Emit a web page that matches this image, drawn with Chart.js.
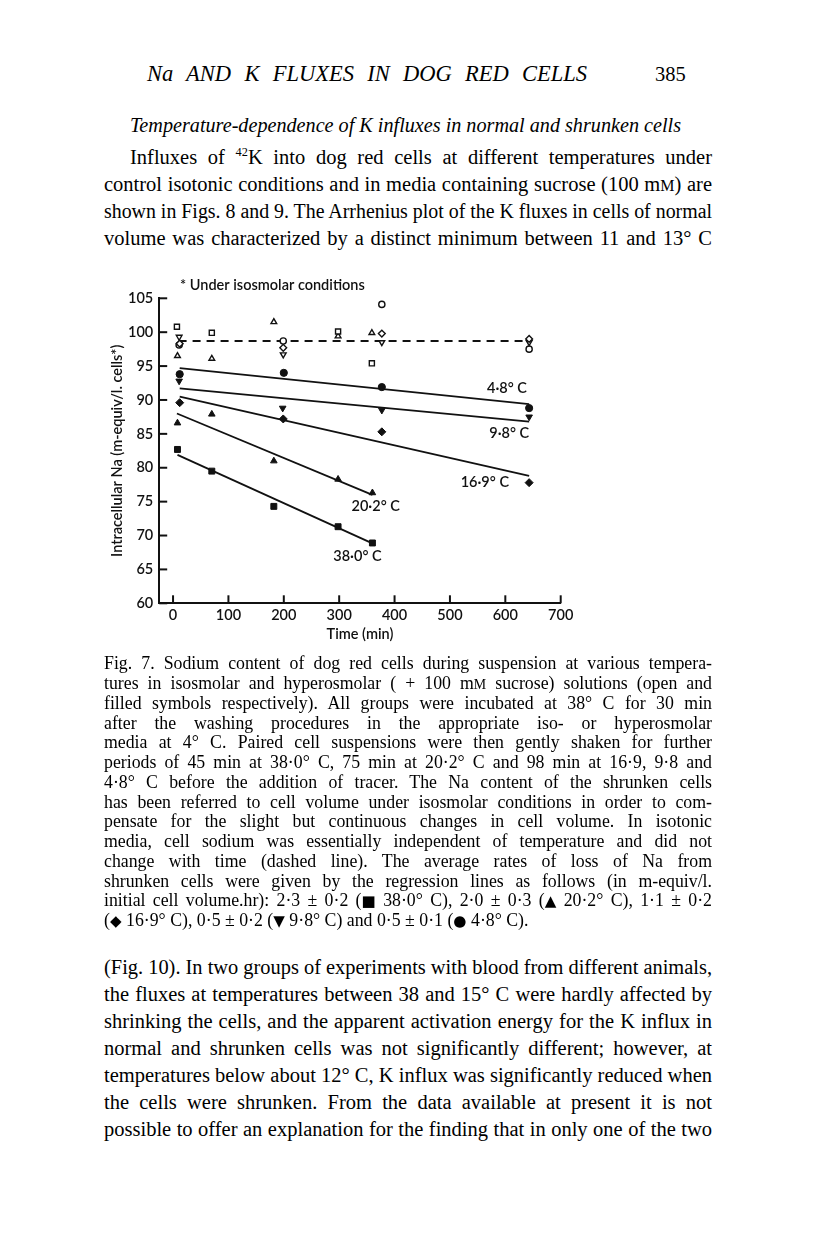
<!DOCTYPE html>
<html>
<head>
<meta charset="utf-8">
<script src="https://cdn.jsdelivr.net/npm/chart.js@4.4.0/dist/chart.umd.min.js"></script>
<style>
  html, body { margin: 0; padding: 0; background: #fff; }
  body { width: 816px; height: 1233px; position: relative; overflow: hidden; font-family: "Liberation Serif", "DejaVu Serif", serif; color: #000; }
  .ln { position: absolute; white-space: nowrap; line-height: 1; transform-origin: 0 0; }
  .sc { font-size: 0.78em; }
  sup { font-size: 0.6em; vertical-align: 0; position: relative; top: -0.6em; }
  #chartWrap { position: absolute; left: 60px; top: 260px; width: 540px; height: 400px; }
  .sym { font-family: "DejaVu Sans", sans-serif; font-size: 0.85em; }
</style>
</head>
<body>
<div id="chartWrap"><canvas id="c" width="540" height="400"></canvas></div>
<script>
// ---------------- data ----------------
const xTicks = [0, 100, 200, 300, 400, 500, 600, 700];
const yTicks = [60, 65, 70, 75, 80, 85, 90, 95, 100, 105];

// shrunken cells (filled symbols)
const t38  = [8, 70, 182, 298, 360];   const na38  = [82.7, 79.5, 74.3, 71.3, 68.9];
const t20  = [8, 70, 182, 298, 360];   const na20  = [86.6, 87.9, 81.0, 78.3, 76.3];
const t169 = [12, 199, 377, 643];      const na169 = [89.6, 87.2, 85.3, 77.8];
const t98  = [11, 198, 377, 643];      const na98  = [92.8, 88.8, 88.5, 87.5];
const t48  = [12, 200, 377, 643];      const na48  = [93.8, 94.0, 91.9, 88.8];

// isosmolar cells (open symbols)
const iso38T  = [7, 70, 298, 359];        const iso38  = [100.8, 99.9, 100.1, 95.4];
const iso20T  = [8, 70, 182, 298, 359];   const iso20  = [96.5, 96.1, 101.5, 99.4, 99.9];
const iso169T = [12, 199, 377, 643];      const iso169 = [98.3, 97.7, 99.8, 99.0];
const iso98T  = [11, 199, 377, 643];      const iso98  = [99.3, 96.7, 98.5, 98.5];
const iso48T  = [11, 199, 377, 643];      const iso48  = [98.1, 98.7, 104.1, 97.5];

// regression lines (end points)
const fitT38  = [8, 360];  const fit38  = [81.9, 68.85];
const fitT20  = [7, 360];  const fit20  = [88.0, 76.0];
const fitT169 = [12, 643]; const fit169 = [90.5, 78.8];
const fitT98  = [12, 643]; const fit98  = [91.7, 86.8];
const fitT48  = [12, 643]; const fit48  = [94.7, 89.4];
const isoLineT = [10, 643]; const isoLine = [98.7, 98.7];

const lineLabels = ['4·8° C', '9·8° C', '16·9° C', '20·2° C', '38·0° C'];
const noteText = '* Under isosmolar conditions';
const xTitle = 'Time (min)';
const yTitle = 'Intracellular Na (m-equiv/l. cells*)';

// ---------------- helpers ----------------
const pts = (xs, ys) => xs.map((x, i) => ({ x: x, y: ys[i] }));
const AX = '"Lato", "Open Sans", sans-serif';

function filled(xs, ys, style, rot, r) {
  return { type: 'scatter', data: pts(xs, ys), pointStyle: style, rotation: rot || 0,
    pointRadius: r, backgroundColor: '#111', borderColor: '#111', borderWidth: 1, order: 1 };
}
function open(xs, ys, style, rot, r) {
  return { type: 'scatter', data: pts(xs, ys), pointStyle: style, rotation: rot || 0,
    pointRadius: r, backgroundColor: '#fff', borderColor: '#111', borderWidth: 1.4, order: 2 };
}
function fit(xs, ys, dash) {
  return { type: 'line', data: pts(xs, ys), borderColor: '#111', borderWidth: 1.8,
    borderDash: dash || [], pointRadius: 0, fill: false, order: 3 };
}

const inwardTicks = {
  id: 'inwardTicks',
  afterDraw(chart, args, o) {
    const ctx = chart.ctx, xs = chart.scales.x, ys = chart.scales.y;
    ctx.save();
    ctx.strokeStyle = '#111'; ctx.lineWidth = 2;
    xTicks.forEach(v => {
      const px = xs.getPixelForValue(v);
      ctx.beginPath(); ctx.moveTo(px, xs.top); ctx.lineTo(px, xs.top - 8); ctx.stroke();
    });
    yTicks.forEach(v => {
      const py = ys.getPixelForValue(v);
      ctx.beginPath(); ctx.moveTo(ys.right, py); ctx.lineTo(ys.right + 8, py); ctx.stroke();
    });
    ctx.fillStyle = '#111';
    ctx.font = '600 14.5px ' + AX;
    ctx.textBaseline = 'middle';
    ctx.textAlign = 'center';
    o.labelAt.forEach((p, i) => {
      ctx.fillText(lineLabels[i], xs.getPixelForValue(p[0]), ys.getPixelForValue(p[1]));
    });
    ctx.textAlign = 'left';
    ctx.fillText(noteText, xs.getPixelForValue(o.noteAt[0]), ys.getPixelForValue(o.noteAt[1]));
    ctx.restore();
  }
};

new Chart(document.getElementById('c'), {
  type: 'scatter',
  data: {
    datasets: [
      fit(fitT38, fit38), fit(fitT20, fit20), fit(fitT169, fit169), fit(fitT98, fit98), fit(fitT48, fit48),
      fit(isoLineT, isoLine, [8, 6]),
      filled(t38, na38, 'rect', 0, 4.2),
      filled(t20, na20, 'triangle', 0, 3.8),
      filled(t169, na169, 'rectRot', 0, 4),
      filled(t98, na98, 'triangle', 180, 3.8),
      filled(t48, na48, 'circle', 0, 3.6),
      open(iso38T, iso38, 'rect', 0, 3.6),
      open(iso20T, iso20, 'triangle', 0, 3.3),
      open(iso169T, iso169, 'rectRot', 0, 3.4),
      open(iso98T, iso98, 'triangle', 180, 3.3),
      open(iso48T, iso48, 'circle', 0, 3.1)
    ]
  },
  options: {
    responsive: false,
    animation: false,
    devicePixelRatio: 1,
    layout: { padding: { top: 38.3, right: 39.3, left: 0, bottom: 0 } },
    plugins: {
      legend: { display: false },
      tooltip: { enabled: false },
      inwardTicks: {
        labelAt: [[603, 91.76], [607, 85.1], [563, 77.8], [366, 74.25], [333, 66.9]],
        noteAt: [12.6, 106.9]
      }
    },
    scales: {
      x: {
        type: 'linear', min: -25, max: 700,
        afterBuildTicks: s => { s.ticks = xTicks.map(v => ({ value: v })); },
        afterFit: s => { s.height = 56.7; },
        grid: { display: false, drawTicks: false },
        border: { display: true, color: '#111', width: 2 },
        ticks: { color: '#111', font: { family: AX, size: 14.5, weight: '600' }, padding: 3, maxRotation: 0 },
        title: { display: true, text: xTitle, color: '#111', font: { family: AX, size: 14.5, weight: '600' },
                 padding: { top: 17, bottom: 17 } }
      },
      y: {
        type: 'linear', min: 60, max: 105,
        afterBuildTicks: s => { s.ticks = yTicks.map(v => ({ value: v })); },
        afterFit: s => { s.width = 99.2; },
        grid: { display: false, drawTicks: false },
        border: { display: true, color: '#111', width: 2 },
        ticks: { color: '#111', font: { family: AX, size: 14.5, weight: '600' }, padding: 6 },
        title: { display: true, text: yTitle, color: '#111', font: { family: AX, size: 14.5, weight: '600' },
                 padding: { top: 48.6, bottom: 48.6 } }
      }
    }
  },
  plugins: [inwardTicks]
});

// ---------------- page text ----------------
const L = 104, R = 712;
const lines = [
  { h: '<i>Na AND K FLUXES IN DOG RED CELLS</i>', x0: 147, x1: 587, y: 75, s: 22.5, j: true },
  { h: '385', x0: 655, y: 75, s: 20.5 },
  { h: '<i>Temperature-dependence of K influxes in normal and shrunken cells</i>', x0: 130, x1: 681, y: 126, s: 20.5, j: true },
  { h: 'Influxes of <sup>42</sup>K into dog red cells at different temperatures under', x0: 130, x1: R, y: 158, s: 20.5, j: true },
  { h: 'control isotonic conditions and in media containing sucrose (100 m<span class="sc">M</span>) are', x0: L, x1: R, y: 185, s: 20.5, j: true },
  { h: 'shown in Figs. 8 and 9. The Arrhenius plot of the K fluxes in cells of normal', x0: L, x1: R, y: 212, s: 20.5, j: true },
  { h: 'volume was characterized by a distinct minimum between 11 and 13° C', x0: L, x1: R, y: 239, s: 20.5, j: true }
];
const cap = [
  'Fig. 7. Sodium content of dog red cells during suspension at various tempera-',
  'tures in isosmolar and hyperosmolar ( + 100 m<span class="sc">M</span> sucrose) solutions (open and',
  'filled symbols respectively). All groups were incubated at 38° C for 30 min',
  'after the washing procedures in the appropriate iso- or hyperosmolar',
  'media at 4° C. Paired cell suspensions were then gently shaken for further',
  'periods of 45 min at 38·0° C, 75 min at 20·2° C and 98 min at 16·9, 9·8 and',
  '4·8° C before the addition of tracer. The Na content of the shrunken cells',
  'has been referred to cell volume under isosmolar conditions in order to com-',
  'pensate for the slight but continuous changes in cell volume. In isotonic',
  'media, cell sodium was essentially independent of temperature and did not',
  'change with time (dashed line). The average rates of loss of Na from',
  'shrunken cells were given by the regression lines as follows (in m-equiv/l.',
  'initial cell volume.hr): 2·3 ± 0·2 (<span class="sym">■</span> 38·0° C), 2·0 ± 0·3 (<span class="sym">▲</span> 20·2° C), 1·1 ± 0·2',
  '(<span class="sym">◆</span> 16·9° C), 0·5 ± 0·2 (<span class="sym">▼</span> 9·8° C) and 0·5 ± 0·1 (<span class="sym">●</span> 4·8° C).'
];
cap.forEach((h, i) => lines.push({ h: h, x0: L, x1: R, y: 665 + i * 19.77, s: 17.8, j: i < cap.length - 1 }));
const tail = [
  '(Fig. 10). In two groups of experiments with blood from different animals,',
  'the fluxes at temperatures between 38 and 15° C were hardly affected by',
  'shrinking the cells, and the apparent activation energy for the K influx in',
  'normal and shrunken cells was not significantly different; however, at',
  'temperatures below about 12° C, K influx was significantly reduced when',
  'the cells were shrunken. From the data available at present it is not',
  'possible to offer an explanation for the finding that in only one of the two'
];
tail.forEach((h, i) => lines.push({ h: h, x0: L, x1: R, y: 968 + i * 27, s: 20.5, j: true }));

lines.forEach(o => {
  const d = document.createElement('div');
  d.className = 'ln';
  d.innerHTML = o.h;
  d.style.fontSize = o.s + 'px';
  d.style.left = o.x0 + 'px';
  d.style.top = (o.y - o.s * 0.55) + 'px';
  document.body.appendChild(d);
  if (o.j) {
    const target = o.x1 - o.x0;
    const w = d.getBoundingClientRect().width;
    const spaces = (d.textContent.match(/ /g) || []).length;
    if (w > target) {
      d.style.transform = 'scaleX(' + (target / w) + ')';
    } else if (spaces > 0) {
      d.style.wordSpacing = ((target - w) / spaces) + 'px';
    }
  }
});
</script>
</body>
</html>
